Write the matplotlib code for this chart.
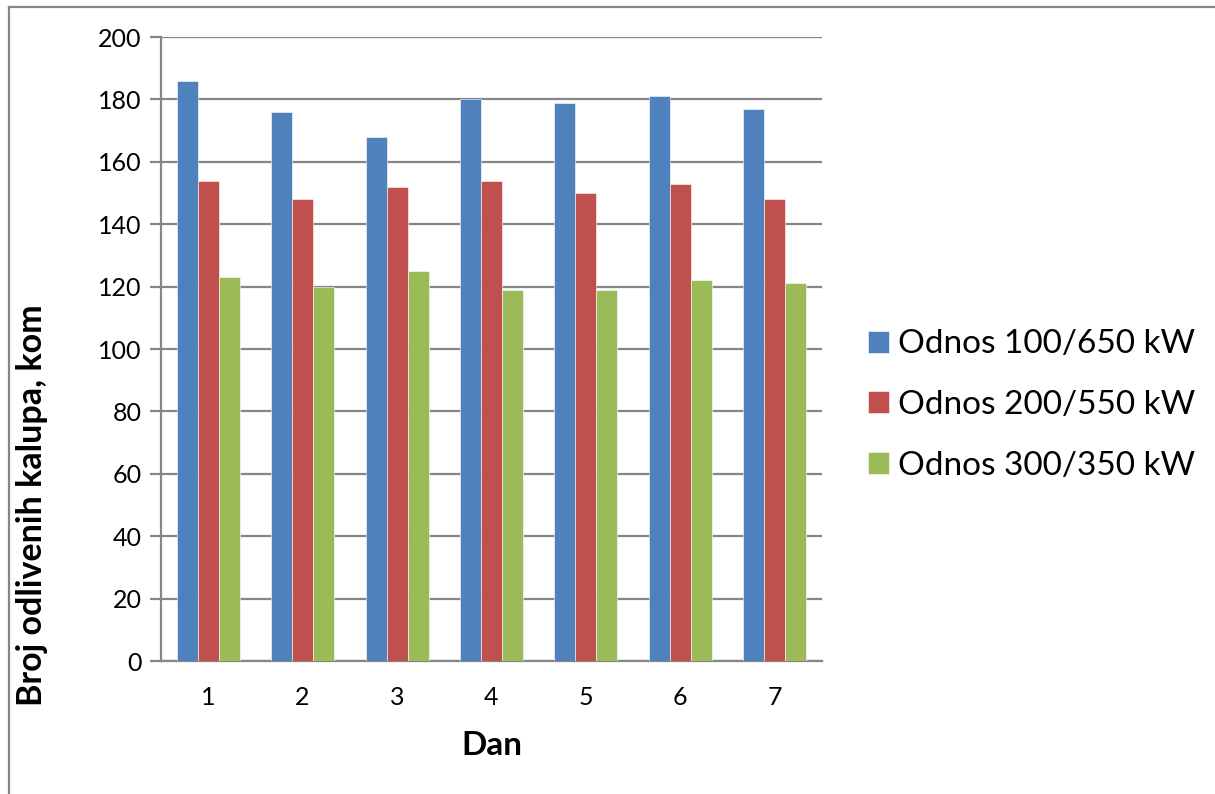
import numpy as np
import matplotlib
matplotlib.use("Agg")
import matplotlib.pyplot as plt
from matplotlib.lines import Line2D

plt.rcParams['font.family'] = ['Lato', 'DejaVu Sans']

# Daily counts of cast moulds for each power ratio
days = ['1', '2', '3', '4', '5', '6', '7']
series_names = ['Odnos 100/650 kW', 'Odnos 200/550 kW', 'Odnos 300/350 kW']
odnos_100_650 = [186, 176, 168, 180, 179, 181, 177]
odnos_200_550 = [154, 148, 152, 154, 150, 153, 148]
odnos_300_350 = [123, 120, 125, 119, 119, 122, 121]
y_ticks = [0, 20, 40, 60, 80, 100, 120, 140, 160, 180, 200]

colors = ['#4F81BD', '#C0504D', '#9BBB59']
grid_color = '#868686'

fig = plt.figure(figsize=(12.15, 7.94), dpi=100)
ax = fig.add_axes([0.1325, 0.1675, 0.5440, 0.7859])

x = np.arange(len(days))
bar_w = 0.2225
for i, (vals, col, name) in enumerate(zip([odnos_100_650, odnos_200_550, odnos_300_350],
                                          colors, series_names)):
    ax.bar(x + (i - 1) * bar_w, vals, width=bar_w, color=col, label=name,
           edgecolor='white', linewidth=0.4, zorder=3)

ax.set_xlim(-0.5, len(days) - 0.5)
ax.set_ylim(0, 200)
ax.set_yticks(y_ticks)
ax.set_xticks(x)
ax.set_xticklabels(days)
ax.yaxis.grid(True, color=grid_color, linewidth=1.6, zorder=0)
ax.tick_params(axis='y', length=8, width=1.6, color=grid_color, labelsize=18, pad=6)
ax.tick_params(axis='x', length=0, labelsize=18, pad=18)
for side in ['top', 'right']:
    ax.spines[side].set_visible(False)
for side in ['left', 'bottom']:
    ax.spines[side].set_color(grid_color)
    ax.spines[side].set_linewidth(1.6)

ax.set_ylabel('Broj odlivenih kalupa, kom', fontsize=24.5, fontweight='bold')
ax.yaxis.set_label_coords(-0.171, 0.25)
ax.set_xlabel('Dan', fontsize=24, fontweight='bold', labelpad=16)

leg = fig.legend(loc='center left', bbox_to_anchor=(0.7144, 0.49), frameon=False,
                 fontsize=24, handlelength=0.64, handleheight=0.64, handletextpad=0.27,
                 labelspacing=0.92, borderpad=0, borderaxespad=0)

# Outer chart frame
fig.add_artist(Line2D([0.007, 1.0], [0.9918, 0.9918], transform=fig.transFigure,
                      color=grid_color, linewidth=1.6))
fig.add_artist(Line2D([0.007, 0.007], [0.0, 0.9918], transform=fig.transFigure,
                      color=grid_color, linewidth=1.6))

fig.savefig('out.png', dpi=100)
